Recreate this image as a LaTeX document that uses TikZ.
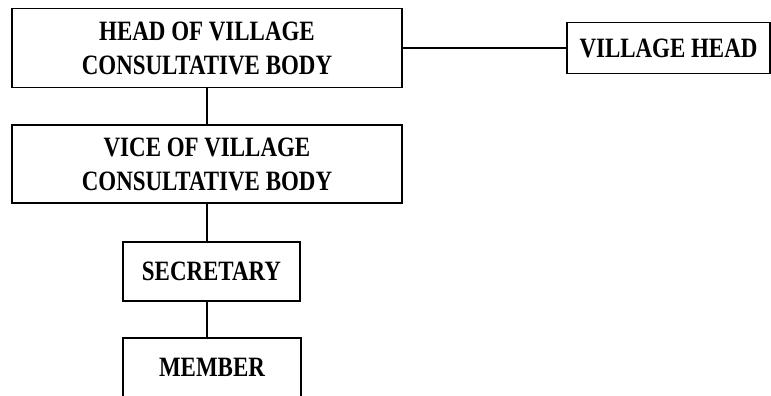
\documentclass[tikz,border=0pt]{standalone}
\usepackage{fontspec}
\setmainfont{Liberation Serif}[FakeStretch=0.82]
\usepackage{tikz}

\begin{document}
\begin{tikzpicture}[x=1pt,y=-1pt,every node/.style={rectangle,draw=black,line width=1.6pt,align=center,inner sep=0pt,font=\fontsize{28}{34}\selectfont\bfseries}]
            \useasboundingbox (0,0) rectangle (771,396);
            \clip (0,0) rectangle (771,396);
            \node[minimum width=390pt,minimum height=79pt] (h) at (207,48){HEAD OF VILLAGE\\CONSULTATIVE BODY};
            \node[minimum width=390pt,minimum height=78pt] (v) at (207,164){VICE OF VILLAGE\\CONSULTATIVE BODY};
            \node[minimum width=177pt,minimum height=59pt] (s) at (211.5,271.5){SECRETARY};
            \node[minimum width=178pt,minimum height=59pt] (m) at (212,367.5){MEMBER};
            \node[minimum width=203pt,minimum height=51pt] (vh) at (668.5,48){VILLAGE HEAD};

            \draw[line width=2pt] (h) -- (vh);
            \draw[line width=1.6pt] (h) -- (v);
            \draw[line width=1.6pt] (v.south) -- (v.south |- s.north);
            \draw[line width=1.6pt] (s.south -| v.south) -- (v.south |- m.north);
        \end{tikzpicture}
\end{document}
